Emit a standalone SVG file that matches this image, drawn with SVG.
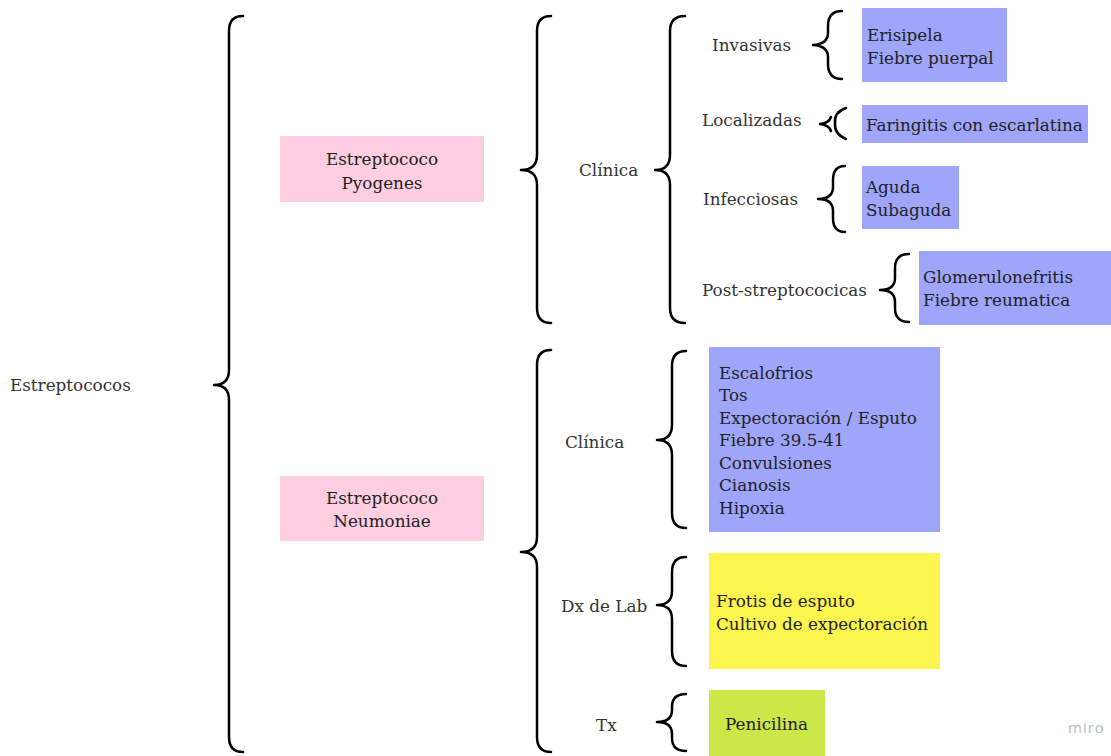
<svg xmlns="http://www.w3.org/2000/svg" width="1111" height="756" viewBox="0 0 1111 756">
<style>
.t{font-family:"DejaVu Serif",serif;font-size:16.8px;fill:#333}
.b{font-family:"DejaVu Serif",serif;font-size:16.8px;fill:#222}
.br{fill:none;stroke:#000;stroke-width:2.5;stroke-linecap:round;stroke-linejoin:round}
.pink{fill:#fdcde0}
.blue{fill:#9ea5fb}
.yel{fill:#fcf54e}
.grn{fill:#cde749}
</style>
<rect width="1111" height="756" fill="#fff"/>
<g id="connectors">
<path class="br" d="M243,16 Q229,16 229,31 L229,370 Q229,385 214,385 Q229,385 229,400 L229,737 Q229,752 243,752"/>
<path class="br" d="M551,16 Q537,16 537,31 L537,155 Q537,170 521,170 Q537,170 537,185 L537,308 Q537,323 551,323"/>
<path class="br" d="M685,16 Q670,16 670,31 L670,155 Q670,170 655,170 Q670,170 670,185 L670,308 Q670,323 685,323"/>
<path class="br" d="M842,11 Q828,11 828,26 L828,33 Q828,44 813,45 Q828,46 828,57 L828,64 Q828,79 842,79"/>
<path class="br" d="M846,108 Q834,112 835,123 Q834,134 846,139"/>
<path class="br" d="M831,117 Q829,123 820,124 Q829,125 831,131"/>
<path class="br" d="M845,166 Q833,166 833,180 L833,187 Q833,199 818,199 Q833,199 833,211 L833,218 Q833,232 845,232"/>
<path class="br" d="M909,254 Q895,254 895,268 L895,278 Q895,290 880,290 Q895,290 895,302 L895,308 Q895,322 909,322"/>
<path class="br" d="M551,350 Q537,350 537,365 L537,537 Q537,552 521,552 Q537,552 537,567 L537,737 Q537,752 551,752"/>
<path class="br" d="M686,351 Q672,351 672,366 L672,425 Q672,440 657,440 Q672,440 672,455 L672,513 Q672,528 686,528"/>
<path class="br" d="M686,557 Q672,557 672,572 L672,591 Q672,605 657,605 Q672,605 672,619 L672,651 Q672,666 686,666"/>
<path class="br" d="M686,694 Q672,694 672,707 L672,710 Q672,722 657,722 Q672,722 672,734 L672,738 Q672,751 686,751"/>
</g>
<g id="root"><text class="t" x="10" y="391">Estreptococos</text></g>
<g id="pyogenes"><rect class="pink" x="280" y="136" width="204" height="66"/>
<text class="b" x="382" y="165" text-anchor="middle">Estreptococo</text>
<text class="b" x="382" y="189" text-anchor="middle">Pyogenes</text></g>
<g id="neumoniae"><rect class="pink" x="280" y="476" width="204" height="65"/>
<text class="b" x="382" y="504" text-anchor="middle">Estreptococo</text>
<text class="b" x="382" y="527" text-anchor="middle">Neumoniae</text></g>
<g id="clinica-p"><text class="t" x="579" y="176">Clínica</text></g>
<g id="invasivas"><text class="t" x="712" y="51">Invasivas</text></g>
<g id="localizadas"><text class="t" x="702" y="126">Localizadas</text></g>
<g id="infecciosas"><text class="t" x="703" y="205">Infecciosas</text></g>
<g id="post"><text class="t" x="702" y="296">Post-streptococicas</text></g>
<g id="inv-box"><rect class="blue" x="862" y="8" width="145" height="74"/>
<text class="b" x="867" y="41">Erisipela</text><text class="b" x="867" y="64">Fiebre puerpal</text></g>
<g id="loc-box"><rect class="blue" x="862" y="105" width="226" height="38"/>
<text class="b" x="866" y="131">Faringitis con escarlatina</text></g>
<g id="inf-box"><rect class="blue" x="862" y="166" width="97" height="63"/>
<text class="b" x="866" y="193">Aguda</text><text class="b" x="866" y="216">Subaguda</text></g>
<g id="post-box"><rect class="blue" x="919" y="251" width="192" height="74"/>
<text class="b" x="923" y="283">Glomerulonefritis</text><text class="b" x="923" y="306">Fiebre reumatica</text></g>
<g id="clinica-n"><text class="t" x="565" y="448">Clínica</text></g>
<g id="clin-box"><rect class="blue" x="709" y="347" width="231" height="185"/>
<text class="b" x="719" y="379">Escalofrios</text>
<text class="b" x="719" y="401">Tos</text>
<text class="b" x="719" y="424">Expectoración / Esputo</text>
<text class="b" x="719" y="446">Fiebre 39.5-41</text>
<text class="b" x="719" y="469">Convulsiones</text>
<text class="b" x="719" y="491">Cianosis</text>
<text class="b" x="719" y="514">Hipoxia</text></g>
<g id="dx"><text class="t" x="561" y="612">Dx de Lab</text></g>
<g id="dx-box"><rect class="yel" x="709" y="553" width="231" height="116"/>
<text class="b" x="716" y="607">Frotis de esputo</text><text class="b" x="716" y="630">Cultivo de expectoración</text></g>
<g id="tx"><text class="t" x="596" y="731">Tx</text></g>
<g id="tx-box"><rect class="grn" x="709" y="690" width="116" height="66"/>
<text class="b" x="725" y="730">Penicilina</text></g>
<text x="1068" y="733" style="font-family:'Open Sans','DejaVu Sans',sans-serif;font-size:15px;fill:#b8b8b8;letter-spacing:1px">miro</text>
</svg>
